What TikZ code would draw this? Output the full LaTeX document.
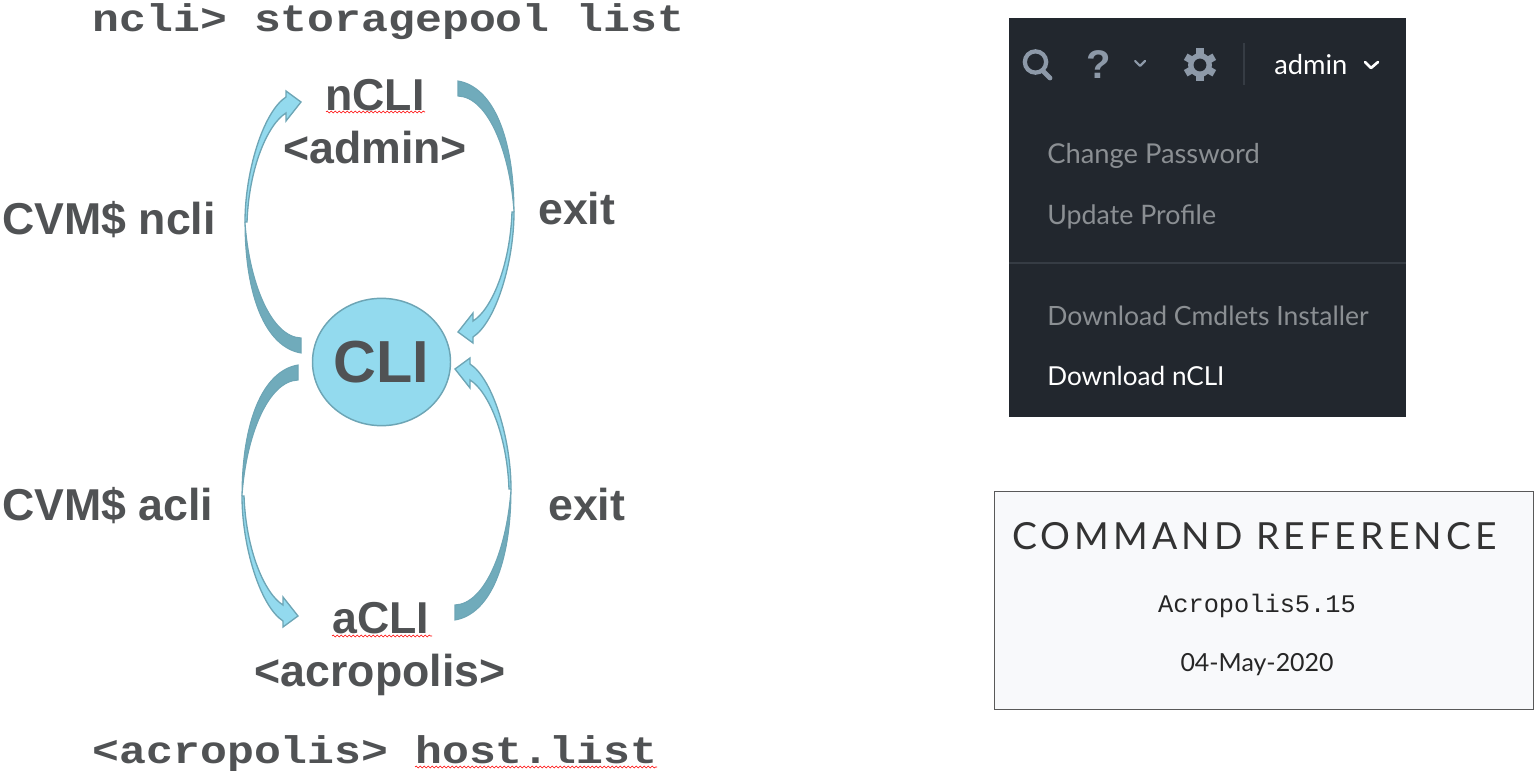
\documentclass[tikz,border=0pt]{standalone}
\usepackage{fontspec}
\setmainfont{Liberation Sans}
\newfontfamily\monofnt{Liberation Mono}
\newfontfamily\uifnt{Lato}
\newfontfamily\titlefnt[LetterSpace=11]{Lato}
\usetikzlibrary{decorations.pathmorphing,shapes.geometric}
\definecolor{ink}{HTML}{505254}
\definecolor{lightblue}{HTML}{93DAEE}
\definecolor{midblue}{HTML}{70ABBB}
\definecolor{edgeblue}{HTML}{6DA5B5}
\definecolor{panel}{HTML}{22272E}
\definecolor{iconcol}{HTML}{8D99A8}
\definecolor{menucol}{HTML}{8B8F93}
\definecolor{rulecol}{HTML}{363C44}
\definecolor{boxfill}{HTML}{F8F9FB}
\tikzset{
  big/.style={font=\bfseries\fontsize{33.5}{33.5}\selectfont,text=ink,inner sep=0pt,anchor=base},
  code/.style={font=\monofnt\bfseries\fontsize{33.6}{33.6}\selectfont,text=ink,inner sep=0pt,anchor=base west,transform shape,yscale=.86},
  menuitem/.style={font=\uifnt\fontsize{20.5}{20.5}\selectfont,text=menucol,inner sep=0pt,anchor=base west},
  squiggle/.style={draw=red,line width=.45pt,decorate,decoration={snake,amplitude=.7pt,segment length=3pt}},
  bendlight/.style={fill=lightblue,draw=edgeblue,line width=1pt,line join=miter},
  benddark/.style={fill=midblue,draw=edgeblue,line width=.8pt},
  chev/.style={line width=1.6pt,line cap=round,line join=round},
  bendarrow/.pic={
    \path[benddark] (0,251) .. controls (-35,245) and (-56,195) .. (-56,120)
       .. controls (-52,180) and (-30,235) .. (0,236) -- cycle;
    \path[bendlight] (-56,120) .. controls (-56,70) and (-38,10) .. (-15,-5)
       -- (-15,-11) -- (0,0) -- (-15,19) -- (-15,11)
       .. controls (-33,22) and (-52,65) .. (-54,120) -- cycle;
  }
}
\begin{document}
\begin{tikzpicture}[x=.75pt,y=-.75pt]
\useasboundingbox (0,0) rectangle (1539,780);
% left part
\node[code] (cmdtop) at (92.5,32) {ncli> storagepool list};
\node[code] (cmdbot) at (92.5,763) {<acropolis> host.list};
\node[big] (ncli) at (375,111) {nCLI};
\node[big] (admin) at (375,164) {<admin>};
\node[big] (acli) at (381,633) {aCLI};
\node[big] (acro) at (380,686) {<acropolis>};
\node[big,anchor=base west] (cvmn) at (2,235) {CVM\$ ncli};
\node[big,anchor=base west] (cvma) at (2,520) {CVM\$ acli};
\node[big,anchor=base west] (exita) at (538,225) {exit};
\node[big,anchor=base west] (exitb) at (548,520) {exit};
\node[ellipse,fill=lightblue,draw=edgeblue,line width=1.1pt,minimum width=103.5pt,minimum height=95.5pt,inner sep=0pt,
      font=\bfseries\fontsize{44.5}{44.5}\selectfont,text=ink] (cli) at (381.5,362) {CLI};
\pic at (301,102) {bendarrow};
\pic[xscale=-1,yscale=-1] at (458,332) {bendarrow};
\pic[yscale=-1] at (298,616) {bendarrow};
\pic[xscale=-1] at (455,369) {bendarrow};
\draw[squiggle] (326,112) -- (425,112);
\draw[squiggle] (332,636) -- (432,636);
\draw[squiggle] (415,767) -- (657,767);
% dark panel
\node[fill=panel,minimum width=297.75pt,minimum height=299.25pt,inner sep=0pt,anchor=north west] (menu) at (1009,18) {};
\draw[iconcol,line width=3.2pt] (1035.5,62) circle (8pt);
\draw[iconcol,line width=3.6pt,line cap=round] (1043,71) -- (1050,78);
\node[font=\bfseries\fontsize{30}{30}\selectfont,text=iconcol,inner sep=0pt,anchor=base] (qmark) at (1099,79) {?};
\draw[iconcol,chev] (1135,61) -- (1140,66) -- (1145,61);
\fill[iconcol] (1200,65) circle (9pt);
\foreach \a in {30,90,150,210,270,330}
  \draw[iconcol,line width=5.5pt] (1200,65) -- +(\a:16.5);
\fill[panel] (1200,65) circle (4.8pt);
\draw[rulecol,line width=1pt] (1244,43) -- (1244,85);
\node[menuitem,text=white] (adm) at (1274,75) {admin};
\draw[white,chev,line width=2pt] (1365,62) -- (1371,68) -- (1378,62);
\node[menuitem] (m1) at (1047,164) {Change Password};
\node[menuitem,font=\uifnt\fontsize{20.1}{20.1}\selectfont] (m2) at (1047,225) {Update Profile};
\draw[rulecol,line width=1pt] (1009,263) -- (1406,263);
\node[menuitem,font=\uifnt\fontsize{19.9}{19.9}\selectfont] (m3) at (1047,326) {Download Cmdlets Installer};
\node[menuitem,text=white,font=\uifnt\fontsize{19.6}{19.6}\selectfont] (m4) at (1047,386) {Download nCLI};
% reference box
\node[fill=boxfill,draw=black!65,line width=1.1pt,minimum width=404pt,minimum height=163.5pt,inner sep=0pt,anchor=north west] (refbox) at (994,491) {};
\node[font=\titlefnt\fontsize{28}{28}\selectfont,text=black!80,inner sep=0pt,anchor=base west] (reft) at (1012,549) {COMMAND REFERENCE};
\node[font=\monofnt\fontsize{19}{19}\selectfont,text=black!85,inner sep=0pt,anchor=base] (refv) at (1257,612) {Acropolis5.15};
\node[font=\uifnt\fontsize{18.7}{18.7}\selectfont,text=black!85,inner sep=0pt,anchor=base] (refd) at (1257,671) {04-May-2020};
\end{tikzpicture}
\end{document}
